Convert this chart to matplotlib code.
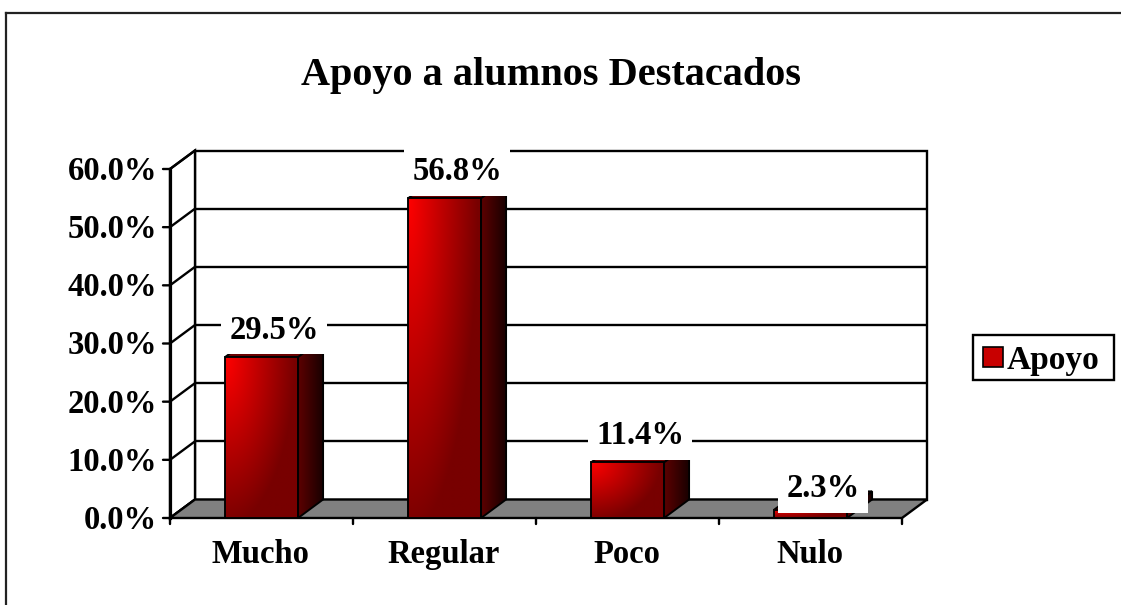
import numpy as np
import matplotlib
matplotlib.use("Agg")
import matplotlib.pyplot as plt
from matplotlib.patches import Polygon, Rectangle
from matplotlib.lines import Line2D

# ---- data -------------------------------------------------------------
categories = ["Mucho", "Regular", "Poco", "Nulo"]
apoyo = [29.5, 56.8, 11.4, 2.3]
value_labels = ["29.5%", "56.8%", "11.4%", "2.3%"]
y_ticks = [0, 10, 20, 30, 40, 50, 60]
y_tick_labels = ["0.0%", "10.0%", "20.0%", "30.0%", "40.0%", "50.0%", "60.0%"]
series_name = "Apoyo"
title = "Apoyo a alumnos Destacados"

# ---- style / projection ---------------------------------------------
W, H = 1121, 605
FONT = "Liberation Serif"
LABEL_SIZE = 23.5
LW = 1.7                 # outline width (points)
DX = 25 / 183            # depth shift along x, in category units
DY = 3.18                # depth shift along y, in percent units
BAR_HALF = 0.2           # half width of a column front face
FRONT_DROP = 1.85        # column fronts stand ahead of the wall plane
FLOOR_GRAY = "#808080"

fig = plt.figure(figsize=(W / 100, H / 100), dpi=100)
fig.patch.set_facecolor("white")
ax = fig.add_axes([170 / W, (H - 518) / H, 732 / W, 349 / H])
ax.axis("off")
XMIN, XMAX = -0.5, len(categories) - 0.5
YMAX = y_ticks[-1]


def front_gradient(n=120, m=60):
    u = np.linspace(0, 1, m)[None, :]
    w = np.linspace(0, 1, n)[:, None]
    s = np.clip(np.sqrt((u * 1.05) ** 2 + (w * 0.95) ** 2), 0, 1)
    r = (255 - 135 * s) / 255.0
    img = np.zeros((n, m, 3))
    img[..., 0] = r
    return img


def side_gradient(n=2, m=40):
    u = np.linspace(0, 1, m)[None, :]
    r = (92 - 66 * u) / 255.0
    img = np.zeros((n, m, 3))
    img[..., 0] = np.repeat(r, n, axis=0)
    return img


# back wall
ax.add_patch(Rectangle((XMIN + DX, DY), XMAX - XMIN, YMAX, facecolor="white",
                       edgecolor="black", lw=LW, zorder=1, clip_on=False))
# left wall
ax.add_patch(Polygon([(XMIN, 0), (XMIN, YMAX), (XMIN + DX, YMAX + DY), (XMIN + DX, DY)],
                     closed=True, facecolor="white", edgecolor="black", lw=LW,
                     zorder=1, clip_on=False))
# gridlines on the back wall and the left wall
for t in y_ticks:
    if 0 < t < YMAX:
        ax.plot([XMIN + DX, XMAX + DX], [t + DY, t + DY], color="black", lw=LW,
                zorder=2, clip_on=False, solid_capstyle="butt")
    ax.plot([XMIN, XMIN + DX], [t, t + DY], color="black", lw=LW, zorder=2,
            clip_on=False)
# floor
ax.add_patch(Polygon([(XMIN, 0), (XMAX, 0), (XMAX + DX, DY), (XMIN + DX, DY)],
                     closed=True, facecolor=FLOOR_GRAY, edgecolor="black", lw=LW,
                     zorder=3, clip_on=False))
# value axis
ax.plot([XMIN, XMIN], [0, YMAX], color="black", lw=LW + 0.6, zorder=3, clip_on=False)
for t, lbl in zip(y_ticks, y_tick_labels):
    ax.annotate("", xy=(XMIN, t), xytext=(-7, 0), textcoords="offset pixels",
                arrowprops=dict(arrowstyle="-", lw=LW, color="black",
                                shrinkA=0, shrinkB=0))
    ax.annotate(lbl, xy=(XMIN, t), xytext=(-13, -11), textcoords="offset pixels",
                ha="right", va="baseline", fontsize=LABEL_SIZE, fontweight="bold",
                family=FONT, color="black")

# category axis ticks and labels
for k in range(len(categories) + 1):
    ax.annotate("", xy=(XMIN + k, 0), xytext=(0, -6), textcoords="offset pixels",
                arrowprops=dict(arrowstyle="-", lw=LW, color="black",
                                shrinkA=0, shrinkB=0))
for i, cat in enumerate(categories):
    ax.annotate(cat, xy=(i, 0), xytext=(-1, -45), textcoords="offset pixels",
                ha="center", va="baseline", fontsize=LABEL_SIZE, fontweight="bold",
                family=FONT, color="black")

# columns
for i, (v, lbl) in enumerate(zip(apoyo, value_labels)):
    top = max(v - FRONT_DROP, 1.4)
    xl, xr = i - BAR_HALF, i + BAR_HALF
    z = 5 + i
    # top face (mostly hidden behind the label)
    ax.add_patch(Polygon([(xl, top), (xr, top), (xr + DX, top + DY), (xl + DX, top + DY)],
                         closed=True, facecolor="#6a0000", edgecolor="black",
                         lw=LW * 0.8, zorder=z))
    # side face
    side = Polygon([(xr, 0), (xr, top), (xr + DX, top + DY), (xr + DX, DY)],
                   closed=True, facecolor="none", edgecolor="black", lw=LW * 0.8,
                   zorder=z + 0.2)
    ax.add_patch(side)
    im = ax.imshow(side_gradient(), extent=(xr, xr + DX, 0, top + DY), origin="upper",
                   aspect="auto", interpolation="bilinear", zorder=z + 0.1)
    im.set_clip_path(side)
    # front face
    ax.imshow(front_gradient(), extent=(xl, xr, 0, top), origin="upper",
              aspect="auto", interpolation="bilinear", zorder=z + 0.1)
    ax.add_patch(Rectangle((xl, 0), xr - xl, top, facecolor="none",
                           edgecolor="black", lw=LW * 0.8, zorder=z + 0.2))
    # value label
    label_base = v - FRONT_DROP
    ax.annotate(lbl, xy=(i + DX / 2, label_base), xytext=(0, 18),
                textcoords="offset pixels", ha="center", va="baseline",
                fontsize=LABEL_SIZE, fontweight="bold", family=FONT, color="black",
                zorder=20, bbox=dict(boxstyle="square,pad=0.25", facecolor="white",
                                     edgecolor="none"))

ax.set_xlim(XMIN, XMAX)
ax.set_ylim(0, YMAX)

# title
fig.text(551 / W, 1 - 85 / H, title, ha="center", va="baseline", fontsize=29,
         fontweight="bold", family=FONT, color="black")

# legend
fig.add_artist(Rectangle((973 / W, 1 - 380 / H), 141 / W, 45 / H,
                         transform=fig.transFigure, facecolor="white",
                         edgecolor="black", lw=LW))
fig.add_artist(Rectangle((983 / W, 1 - 367 / H), 20 / W, 20 / H,
                         transform=fig.transFigure, facecolor="#c80000",
                         edgecolor="black", lw=1.2))
fig.text(1007 / W, 1 - 369 / H, series_name, ha="left", va="baseline",
         fontsize=LABEL_SIZE + 0.5, fontweight="bold", family=FONT, color="black")

# outer chart frame (top and left edges)
fig.add_artist(Line2D([6 / W, 6 / W], [1 - 13 / H, -0.01], transform=fig.transFigure,
                      color="#222222", lw=1.6))
fig.add_artist(Line2D([6 / W, 1.01], [1 - 13 / H, 1 - 13 / H], transform=fig.transFigure,
                      color="#222222", lw=1.6))

fig.savefig("out.png", dpi=100, facecolor="white")
